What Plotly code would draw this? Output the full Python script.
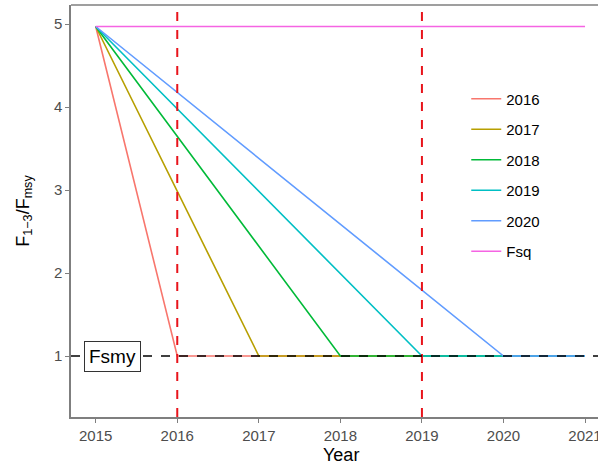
import plotly.graph_objects as go

# Data
series_names = ["2016", "2017", "2018", "2019", "2020", "Fsq"]
x_2016 = [2015, 2016, 2021]; y_2016 = [4.97, 1.0, 1.0]
x_2017 = [2015, 2017, 2021]; y_2017 = [4.97, 1.0, 1.0]
x_2018 = [2015, 2018, 2021]; y_2018 = [4.97, 1.0, 1.0]
x_2019 = [2015, 2019, 2021]; y_2019 = [4.97, 1.0, 1.0]
x_2020 = [2015, 2020, 2021]; y_2020 = [4.97, 1.0, 1.0]
x_fsq = [2015, 2021]; y_fsq = [4.97, 4.97]
ref_years = [2016, 2019]
fmsy_level = 1.0
x_ticks = [2015, 2016, 2017, 2018, 2019, 2020, 2021]
y_ticks = [1, 2, 3, 4, 5]

colors = ["#F8766D", "#B79F00", "#00BA38", "#00BFC4", "#619CFF", "#F564E3"]
xs = [x_2016, x_2017, x_2018, x_2019, x_2020, x_fsq]
ys = [y_2016, y_2017, y_2018, y_2019, y_2020, y_fsq]

FONT = "Liberation Sans, Arial"

fig = go.Figure()
for name, x, y, c in zip(series_names, xs, ys, colors):
    fig.add_trace(go.Scatter(x=x, y=y, mode="lines", name=name, legendgroup=name,
                             line=dict(color=c, width=1.6)))

for yr in ref_years:
    fig.add_shape(type="line", x0=yr, x1=yr, y0=0, y1=1, xref="x", yref="paper",
                  line=dict(color="#E8141B", width=2, dash="dash"), layer="above")
fig.add_shape(type="line", x0=0, x1=1, y0=fmsy_level, y1=fmsy_level, xref="paper", yref="y",
              line=dict(color="black", width=1.5, dash="dash"), layer="above")
# top border
fig.add_shape(type="line", x0=0, x1=1, y0=1, y1=1, xref="paper", yref="paper",
              line=dict(color="#7F7F7F", width=1.5))

fig.add_annotation(x=2015.2, y=fmsy_level, text="Fsmy", showarrow=False,
                   font=dict(size=19, color="black", family=FONT),
                   bgcolor="white", bordercolor="#333333", borderwidth=1, borderpad=4)

fig.add_annotation(x=0.512, y=-0.092, xref="paper", yref="paper", yanchor="middle",
                   text="Year", showarrow=False,
                   font=dict(size=18, color="black", family=FONT))

fig.update_layout(
    width=598, height=466,
    margin=dict(l=71, r=0, t=5, b=49, autoexpand=False),
    paper_bgcolor="white", plot_bgcolor="white",
    font=dict(family=FONT, color="#4D4D4D", size=15),
    showlegend=True,
    legend=dict(x=0.75, y=0.812, xanchor="left", yanchor="top",
                font=dict(size=15, color="black"), tracegroupgap=8,
                bgcolor="rgba(0,0,0,0)"),
    xaxis=dict(range=[2014.697, 2021.159], tickvals=x_ticks, showgrid=False, zeroline=False,
               automargin=False, ticklabeloverflow="allow",
               showline=True, linecolor="#7F7F7F", linewidth=1.5,
               ticks="outside", ticklen=4, tickcolor="#7F7F7F", tickwidth=1.2,
               tickfont=dict(size=15, color="#4D4D4D")),
    yaxis=dict(range=[0.265, 5.229], tickvals=y_ticks, showgrid=False, zeroline=False,
               automargin=False,
               showline=True, linecolor="#7F7F7F", linewidth=1.5,
               ticks="outside", ticklen=4, tickcolor="#7F7F7F", tickwidth=1.2,
               tickfont=dict(size=15, color="#4D4D4D"),
               title=dict(text="F<sub>1\u22123</sub>/F<sub>msy</sub>", standoff=20,
                          font=dict(size=18, color="black"))),
)

fig.write_html("out.html", config={"displayModeBar": False},
               post_script="document.body.style.margin='0';document.body.style.overflow='hidden';")
